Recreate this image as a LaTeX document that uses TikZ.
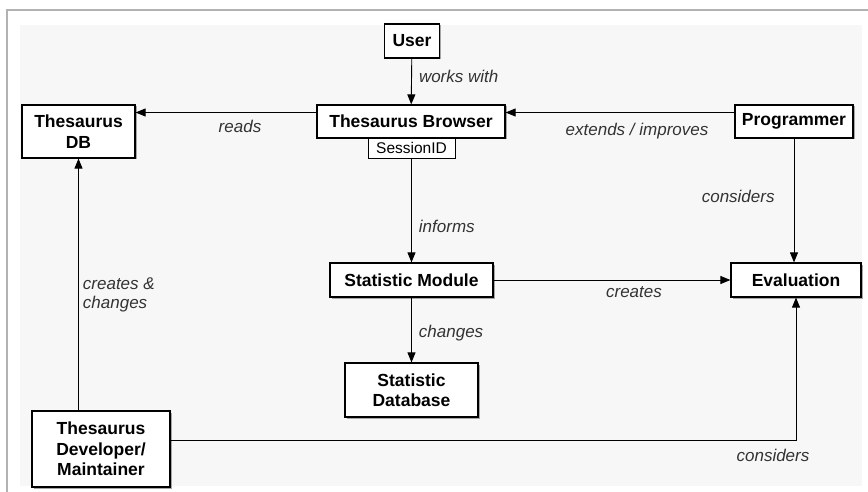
\documentclass[tikz,border=0pt]{standalone}
\usepackage{fontspec}
\setmainfont{Liberation Sans}
\usetikzlibrary{arrows.meta,shadows}

\begin{document}
\begin{tikzpicture}[
      x=1pt,
      y=-1pt,
      >={Triangle[length=10pt,width=8pt]},
      box/.style={draw, line width=1.2pt, fill=white, align=center,
        inner sep=0pt, font=\fontsize{17.5}{20.5}\selectfont\bfseries,
        drop shadow={shadow xshift=1.5pt, shadow yshift=-1.5pt, fill=gray!70, opacity=1}},
      lbl/.style={font=\fontsize{17}{19}\selectfont\itshape, text=black!80, inner sep=1pt},
      arr/.style={->, line width=0.9pt}
    ]

    % --- frame and background ---
    \useasboundingbox (0,0) rectangle (868,492);
    \fill[white] (0,0) rectangle (868,492);
    \fill[black!3] (20,25) rectangle (862,486);
    \draw[gray!60, line width=1.2pt] (7,492) -- (7,10) -- (868,10);

    % --- nodes ---
    \node[box, minimum width=55, minimum height=34] (user) at (412,41) {User};
    \node[box, minimum width=188, minimum height=33] (tb) at (411,121.5) {Thesaurus Browser};
    \node[draw, line width=0.7pt, fill=white, minimum width=87, minimum height=20,
      inner sep=0pt, font=\fontsize{15.5}{18}\selectfont, anchor=north] (sid) at (411.5,138) {SessionID};
    \node[box, minimum width=113, minimum height=53] (db) at (78.5,131.5) {Thesaurus\\DB};
    \node[box, minimum width=118, minimum height=33] (prog) at (794,121.5) {Programmer};
    \node[box, minimum width=163, minimum height=34] (sm) at (411.5,280) {Statistic Module};
    \node[box, minimum width=130, minimum height=34] (eval) at (796,280) {Evaluation};
    \node[box, minimum width=133, minimum height=54] (sdb) at (411.5,390) {Statistic\\Database};
    \node[box, minimum width=138, minimum height=76] (dev) at (101,449) {Thesaurus\\Developer/\\Maintainer};

    % --- connectors ---
    \draw[arr] (user) -- (tb)
      node[lbl, pos=0.4, right=6pt] (lWorks) {works with};
    \draw[arr] ([yshift=9pt]tb.west) -- ([yshift=9pt]tb.west -| db.east)
      node[lbl, midway, below=6pt, xshift=14pt] (lReads) {reads};
    \draw[arr] ([yshift=9pt]prog.west) -- ([yshift=9pt]tb.east)
      node[lbl, midway, below=9pt, xshift=17pt] (lExtends) {extends / improves};
    \draw[arr] (prog.south) -- (prog.south |- eval.north)
      node[lbl, pos=0.47, left=18pt] (lConsProg) {considers};
    \draw[arr] (sid.south) -- (sm.north)
      node[lbl, pos=0.65, right=6pt] (lInforms) {informs};
    \draw[arr] (sm) -- (eval)
      node[lbl, midway, below=5pt, xshift=22pt] (lCreates) {creates};
    \draw[arr] (sm) -- (sdb)
      node[lbl, pos=0.55, right=6pt] (lChanges) {changes};
    \draw[arr] (dev.north -| db.south) -- (db.south)
      node[lbl, pos=0.46, right=3pt, align=left] (lCreatesCh) {creates \&\\changes};
    \draw[arr] ([yshift=9pt]dev.east) -| (eval.south)
      node[lbl, pos=0.48, below=8pt, xshift=2pt] (lConsDev) {considers};

  \end{tikzpicture}
\end{document}
